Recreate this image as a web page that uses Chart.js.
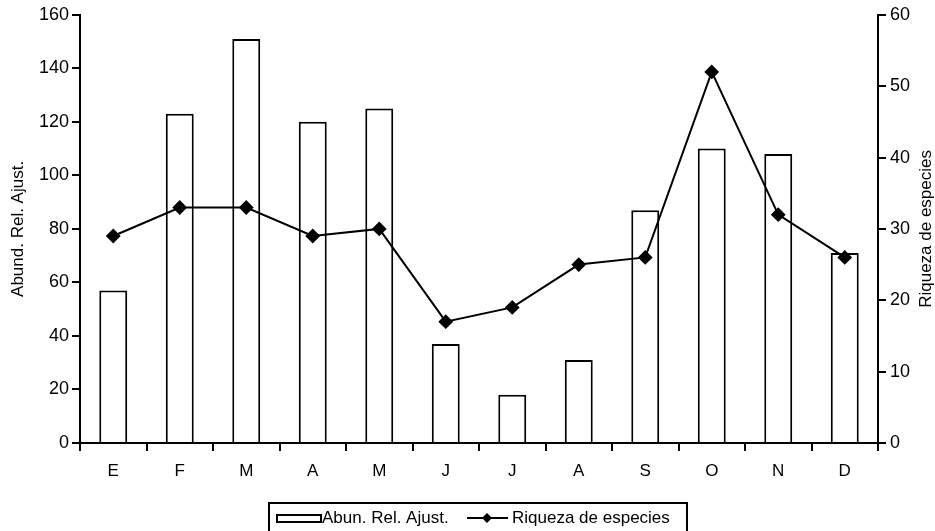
<!DOCTYPE html>
<html>
<head>
<meta charset="utf-8">
<script src="https://cdn.jsdelivr.net/npm/chart.js@4.4.1/dist/chart.umd.min.js"></script>
<style>
body{margin:0;background:#fff;}
#wrap{width:935px;height:531px;}
</style>
</head>
<body>
<div id="wrap"><canvas id="c" width="935" height="531"></canvas></div>
<script>
// months (Spanish initials)
const MESES = ['E','F','M','A','M','J','J','A','S','O','N','D'];
// bars, left axis
const abundancia = [57,123,151,120,125,37,18,31,87,110,108,71];
// line, right axis
const riqueza = [29,33,33,29,30,17,19,25,26,52,32,26];
const labelBar = 'Abun. Rel. Ajust.';
const labelLine = 'Riqueza de especies';
const tituloIzq = 'Abund. Rel. Ajust.';
const tituloDer = 'Riqueza de especies';

const FONT = 'Liberation Sans, Arial, sans-serif';

// legend drawn by hand, the builtin one can't do the wide box + diamond line
// also the right title, which reads bottom-to-top in the original
const legendaPlugin = {
  id: 'legenda',
  afterDraw(chart){
    const ctx = chart.ctx;
    const ds = chart.data.datasets;
    const barDs = ds.find(d => d.type === 'bar');
    const lineDs = ds.find(d => d.type === 'line');
    ctx.save();
    ctx.strokeStyle = '#000';
    ctx.lineWidth = 2;
    ctx.strokeRect(269, 503, 418, 30);
    let y = 518;
    // bar symbol
    ctx.strokeRect(277, 515, 44, 7);
    ctx.fillStyle = '#000';
    ctx.font = '17px ' + FONT;
    ctx.textBaseline = 'middle';
    ctx.fillText(barDs.label, 322, y);
    // line symbol
    ctx.beginPath();
    ctx.moveTo(467, y); ctx.lineTo(508, y);
    ctx.stroke();
    ctx.beginPath();
    ctx.moveTo(487, y-5); ctx.lineTo(492, y); ctx.lineTo(487, y+5); ctx.lineTo(482, y);
    ctx.closePath(); ctx.fill();
    ctx.fillText(lineDs.label, 512, y);
    ctx.restore();

    // right axis title
    const ar = chart.chartArea;
    ctx.save();
    ctx.translate(926, (ar.top + ar.bottom) / 2);
    ctx.rotate(-Math.PI / 2);
    ctx.fillStyle = '#000';
    ctx.font = '17px ' + FONT;
    ctx.textAlign = 'center';
    ctx.textBaseline = 'middle';
    ctx.fillText(tituloDer, 0, 0);
    ctx.restore();
  }
};

const ctx = document.getElementById('c').getContext('2d');
new Chart(ctx, {
  data: {
    labels: MESES,
    datasets: [
      {
        type: 'line', label: labelLine, data: riqueza, yAxisID: 'y2',
        borderColor: '#000', backgroundColor: '#000', borderWidth: 2,
        pointStyle: 'rectRot', pointRadius: 6, pointBackgroundColor: '#000',
        tension: 0, order: 0
      },
      {
        type: 'bar', label: labelBar, data: abundancia, yAxisID: 'y',
        backgroundColor: '#fff', borderColor: '#000', borderWidth: 2,
        categoryPercentage: 1, barPercentage: 0.42, order: 1
      }
    ]
  },
  options: {
    responsive: false,
    animation: false,
    devicePixelRatio: 1,
    layout: {padding: {top: 14, left: 0, right: 0, bottom: 0}},
    plugins: {legend: {display: false}, tooltip: {enabled: false}},
    scales: {
      x: {
        offset: true,
        grid: {offset: true, drawOnChartArea: false, drawTicks: true, tickLength: 8, color: '#000', lineWidth: 2},
        border: {display: true, color: '#000', width: 2},
        ticks: {color: '#000', font: {family: FONT, size: 17}, padding: 10},
        afterFit(s){ s.height = 88; }
      },
      y: {
        position: 'left', min: 0, max: 160,
        ticks: {stepSize: 20, color: '#000', font: {family: FONT, size: 18}, padding: 3},
        grid: {drawOnChartArea: false, drawTicks: true, tickLength: 8, color: '#000', lineWidth: 2},
        border: {display: true, color: '#000', width: 2},
        title: {display: true, text: tituloIzq, color: '#000', font: {family: FONT, size: 17}, padding: {top: 8, bottom: 0}},
        afterFit(s){ s.width = 80; }
      },
      y2: {
        position: 'right', min: 0, max: 60,
        ticks: {stepSize: 10, color: '#000', font: {family: FONT, size: 18}, padding: 4},
        grid: {drawOnChartArea: false, drawTicks: true, tickLength: 8, color: '#000', lineWidth: 2},
        border: {display: true, color: '#000', width: 2},
        title: {display: false},
        afterFit(s){ s.width = 57; }
      }
    }
  },
  plugins: [legendaPlugin]
});
</script>
</body>
</html>
